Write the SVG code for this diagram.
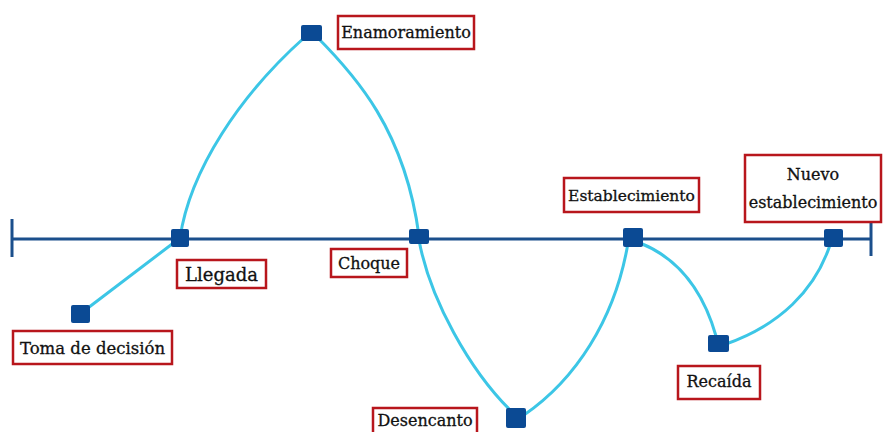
<svg xmlns="http://www.w3.org/2000/svg" width="883" height="432" viewBox="0 0 883 432">
<style>
.axis{stroke:#1b4f8c;stroke-width:3;fill:none}
.curve{stroke:#3cc6e6;stroke-width:3;fill:none;stroke-linecap:round}
.pt{fill:#0b4a94}
.box{fill:#fff;stroke:#b8161c;stroke-width:2.5}
.lbl{font-family:"DejaVu Serif","Liberation Serif",serif;font-size:16px;fill:#111;stroke:#111;stroke-width:0.3;text-anchor:middle}
</style>
<rect width="883" height="432" fill="#fff"/>
<g id="axis">
<line class="axis" x1="12" y1="239" x2="871" y2="239"/>
<line class="axis" x1="12" y1="219" x2="12" y2="257"/>
<line class="axis" x1="871" y1="222" x2="871" y2="256"/>
</g>
<g id="connectors">
<path class="curve" d="M80,314 L180,238"/>
<path class="curve" d="M180,238 C190,170 240,95 305,37"/>
<path class="curve" d="M316,36 C355,75 405,130 419,236"/>
<path class="curve" d="M419,240 C430,300 470,370 510,410"/>
<path class="curve" d="M524,415 C575,380 615,320 628,243"/>
<path class="curve" d="M640,243 C670,255 700,280 716,336"/>
<path class="curve" d="M726,344 C780,325 815,290 830,245"/>
</g>
<g id="n-toma"><rect class="pt" x="71" y="305" width="19" height="18" rx="2"/><rect class="box" x="13" y="331" width="159" height="33"/><text class="lbl" x="92.5" y="354" style="font-size:16.5px">Toma de decisión</text></g>
<g id="n-llegada"><rect class="pt" x="171" y="229" width="18" height="18" rx="2"/><rect class="box" x="177" y="260" width="89" height="28"/><text class="lbl" x="221.5" y="281" style="font-size:18px">Llegada</text></g>
<g id="n-enamoramiento"><rect class="pt" x="301" y="25" width="21" height="16" rx="2"/><rect class="box" x="338" y="16" width="136" height="33"/><text class="lbl" x="406" y="38">Enamoramiento</text></g>
<g id="n-choque"><rect class="pt" x="409" y="229" width="20" height="15" rx="2"/><rect class="box" x="331" y="249" width="76" height="28"/><text class="lbl" x="369" y="269">Choque</text></g>
<g id="n-desencanto"><rect class="pt" x="506" y="408" width="20" height="20" rx="2"/><rect class="box" x="373" y="408" width="104" height="28"/><text class="lbl" x="425" y="426">Desencanto</text></g>
<g id="n-establecimiento"><rect class="pt" x="623" y="228" width="20" height="19" rx="2"/><rect class="box" x="564" y="178" width="135" height="34"/><text class="lbl" x="631.5" y="201" style="font-size:15.5px">Establecimiento</text></g>
<g id="n-recaida"><rect class="pt" x="708" y="335" width="21" height="17" rx="2"/><rect class="box" x="678" y="366" width="82" height="33"/><text class="lbl" x="719" y="387">Recaída</text></g>
<g id="n-nuevo"><rect class="pt" x="824" y="229" width="19" height="18" rx="2"/><rect class="box" x="745" y="155" width="136" height="67"/><text class="lbl" x="813" y="180">Nuevo</text><text class="lbl" x="813" y="208">establecimiento</text></g>
</svg>
